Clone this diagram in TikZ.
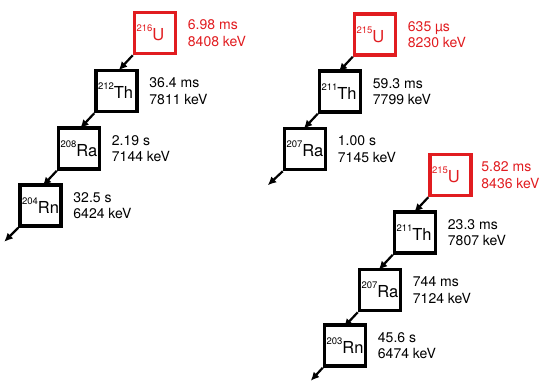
\documentclass[tikz,border=0pt]{standalone}
\usepackage{fontspec}
\setmainfont{TeX Gyre Heros}
\usetikzlibrary{arrows.meta}
\definecolor{dred}{RGB}{225,28,32}
\newcommand\iso[2]{\makebox[37pt][l]{\raisebox{9pt}{\fontsize{9.5}{9.5}\selectfont #1}#2}}
\tikzset{
  nuc/.style={draw, line width=3.5pt, minimum size=41pt, inner sep=0pt,
    font=\fontsize{16.5}{16.5}\selectfont},
  hot/.style={nuc, draw=dred, text=dred},
  lab/.style={anchor=west, align=left, inner sep=0pt,
    font=\fontsize{14}{16.5}\selectfont},
  hotlab/.style={lab, text=dred},
  decay/.style={line width=2.2pt, -{Latex[length=8.5pt,width=8pt]}}
}
\begin{document}
\begin{tikzpicture}[x=1pt,y=-1pt]
\useasboundingbox (0,0) rectangle (540,381);
% chain 1
\node[hot] (a1) at (155,33) {\iso{216}{U}};
\node[nuc] (a2) at (116.5,91) {\iso{212}{Th}};
\node[nuc] (a3) at (79,148.5) {\iso{208}{Ra}};
\node[nuc] (a4) at (40.5,205.5) {\iso{204}{Rn}};
\node[hotlab] (la1) at ([xshift=10.5pt]a1.east) {6.98 ms\\8408 keV};
\node[lab] (la2) at ([xshift=10.5pt]a2.east) {36.4 ms\\7811 keV};
\node[lab] (la3) at ([xshift=10.5pt]a3.east) {2.19 s\\7144 keV};
\node[lab] (la4) at ([xshift=10.5pt]a4.east) {32.5 s\\6424 keV};
\draw[decay] (a1.south west) -- ++(-14,15);
\draw[decay] (a2.south west) -- ++(-14,15);
\draw[decay] (a3.south west) -- ++(-14,15);
\draw[decay] (a4.south west) -- ++(-14,14);
% chain 2
\node[hot] (b1) at (375,34.5) {\iso{215}{U}};
\node[nuc] (b2) at (340,91.5) {\iso{211}{Th}};
\node[nuc] (b3) at (305,149) {\iso{207}{Ra}};
\node[hotlab] (lb1) at ([xshift=10.5pt]b1.east) {635 µs\\8230 keV};
\node[lab] (lb2) at ([xshift=10.5pt]b2.east) {59.3 ms\\7799 keV};
\node[lab] (lb3) at ([xshift=10.5pt]b3.east) {1.00 s\\7145 keV};
\draw[decay] (b1.south west) -- ++(-14,15);
\draw[decay] (b2.south west) -- ++(-14,15);
\draw[decay] (b3.south west) -- ++(-15,14);
% chain 3
\node[hot] (c1) at (450.5,175) {\iso{215}{U}};
\node[nuc] (c2) at (415,232.5) {\iso{211}{Th}};
\node[nuc] (c3) at (380,290) {\iso{207}{Ra}};
\node[nuc] (c4) at (345,345.5) {\iso{203}{Rn}};
\node[hotlab] (lc1) at ([xshift=8.5pt]c1.east) {5.82 ms\\8436 keV};
\node[lab] (lc2) at ([xshift=10.5pt]c2.east) {23.3 ms\\7807 keV};
\node[lab] (lc3) at ([xshift=10.5pt]c3.east) {744 ms\\7124 keV};
\node[lab] (lc4) at ([xshift=10.5pt]c4.east) {45.6 s\\6474 keV};
\draw[decay] (c1.south west) -- ++(-14,15);
\draw[decay] (c2.south west) -- ++(-14,15);
\draw[decay] (c3.south west) -- ++(-14,15);
\draw[decay] (c4.south west) -- ++(-12,13);
\end{tikzpicture}
\end{document}
